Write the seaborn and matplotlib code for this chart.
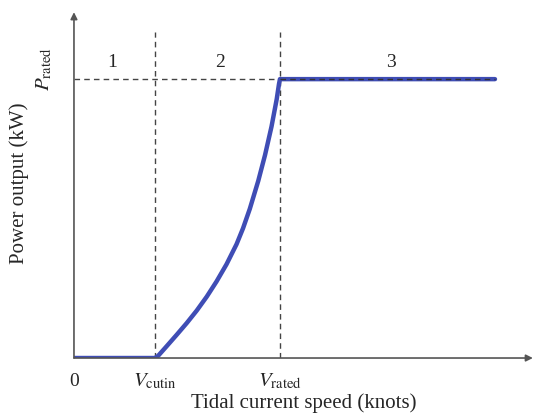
import numpy as np
import pandas as pd
import seaborn as sns
import matplotlib.pyplot as plt

# Power curve (speed in arbitrary units, power as fraction of rated)
speed = [0.0, 2.5, 2.60, 2.86, 3.17, 3.48, 3.79, 4.10, 4.40, 4.71, 5.02, 5.22,
         5.43, 5.69, 5.90, 6.10, 6.26, 6.33, 6.36, 13.0]
power = [0.0, 0.0, 0.008, 0.042, 0.083, 0.125, 0.170, 0.220, 0.274, 0.336, 0.408, 0.465,
         0.535, 0.635, 0.728, 0.830, 0.928, 0.982, 1.0, 1.0]

v_cutin = 2.5
v_rated = 6.36
p_rated = 1.0

region_labels = ['1', '2', '3']
region_x = [1.17, 4.5, 9.8]

sns.set_style("white")
plt.rcParams['font.family'] = ['Liberation Serif', 'DejaVu Serif']
plt.rcParams['mathtext.fontset'] = 'stix'

df = pd.DataFrame({'speed': speed, 'power': power})

fig = plt.figure(figsize=(5.36, 4.18), dpi=100)
ax = fig.add_axes([0.138, 0.1435, 0.861, 0.834])

# dashed guide lines
ax.plot([v_cutin, v_cutin], [0, 1.17], ls=(0, (4, 3)), color='#444444', lw=1)
ax.plot([v_rated, v_rated], [0, 1.17], ls=(0, (4, 3)), color='#444444', lw=1)
ax.plot([0, v_rated], [p_rated, p_rated], ls=(0, (4, 3)), color='#444444', lw=1)

sns.lineplot(data=df, x='speed', y='power', ax=ax, color='#3f4db5', lw=3.2,
             solid_capstyle='round', solid_joinstyle='round', sort=False)
ax.plot([v_rated, 13.0], [p_rated, p_rated], ls=(0, (4, 3)), color='#333333', lw=1)

ax.set_xlim(0, 14.25)
ax.set_ylim(0, 1.25)
for s in ax.spines.values():
    s.set_visible(False)
ax.set_xticks([])
ax.set_yticks([])
ax.set_xlabel('')
ax.set_ylabel('')

# axis arrows
arrow = dict(arrowstyle='-|>', color='#555555', lw=1.2, mutation_scale=10, shrinkA=0, shrinkB=0)
ax.annotate('', xy=(14.17, 0), xytext=(0, 0), arrowprops=arrow, annotation_clip=False)
ax.annotate('', xy=(0, 1.24), xytext=(0, 0), arrowprops=arrow, annotation_clip=False)

for lab, x in zip(region_labels, region_x):
    ax.text(x, 1.061, lab, ha='center', va='center', fontsize=14)

ax.text(0, -0.085, '0', ha='center', va='center', fontsize=14)
ax.text(v_cutin, -0.085, r'$V_{\mathrm{cutin}}$', ha='center', va='center', fontsize=15)
ax.text(v_rated, -0.085, r'$V_{\mathrm{rated}}$', ha='center', va='center', fontsize=15)
ax.text(-0.9, 1.035, r'$P_{\mathrm{rated}}$', ha='center', va='center', fontsize=15, rotation=90)

fig.text(304 / 536, 1 - 403 / 418, 'Tidal current speed (knots)', ha='center', va='center', fontsize=15)
fig.text(19 / 536, 1 - 183 / 418, 'Power output (kW)', ha='center', va='center', fontsize=15, rotation=90)

fig.savefig('out.png', dpi=100)
